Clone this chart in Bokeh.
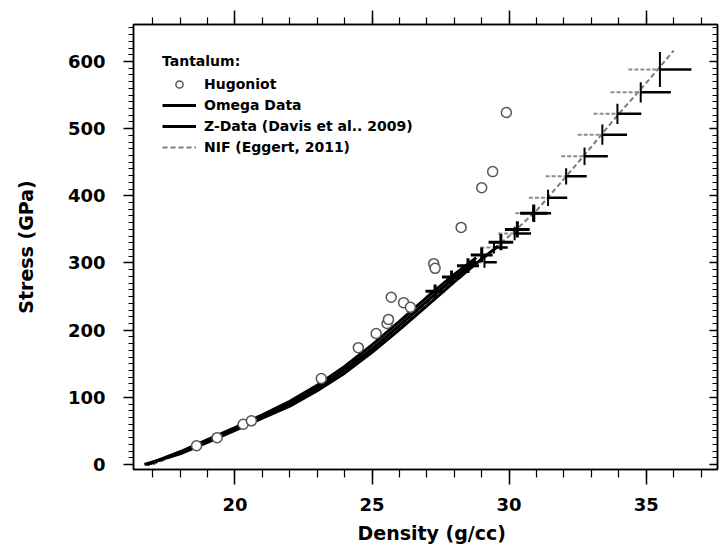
from bokeh.plotting import figure
from bokeh.models import (LinearAxis, SingleIntervalTicker, Legend, LegendItem, Range1d, Title)
from bokeh.embed import file_html
from bokeh.resources import INLINE

# ---------------- data ----------------
hug_density = [18.6, 19.35, 20.3, 20.6, 23.15, 24.5, 25.15, 25.55, 25.6, 25.7, 26.15, 26.4,
               27.25, 27.3, 28.25, 29.0, 29.4, 29.9]
hug_stress = [28, 40, 60, 65, 128, 174, 195, 210, 216, 249, 241, 234, 299, 292, 353, 412, 436, 524]

omega_density = [16.8, 18, 19, 20, 21, 22, 23, 24, 25, 26, 27, 28, 28.8]
omega_stress_a = [0, 18, 35, 53, 71, 90, 114, 141, 172, 207, 243, 278, 303]
omega_stress_b = [0, 19, 37, 55, 74, 94, 118, 146, 178, 213, 249, 283, 308]

z_density = [16.7, 18, 19, 20, 21, 22, 23, 24, 25, 26, 27, 28, 29, 29.6]
z_stress = [0, 16, 33, 51, 69, 87, 110, 136, 167, 201, 236, 272, 306, 325]
z_err_density = [27.3, 27.9, 28.5, 29.0, 29.7, 30.3, 30.9]
z_err_stress = [258, 279, 296, 312, 331, 350, 374]
z_err_dx = [0.35, 0.35, 0.4, 0.4, 0.45, 0.45, 0.5]
z_err_dy = [10, 10, 11, 11, 12, 12, 13]

nif_density = [17, 18, 19, 20, 21, 22, 23, 24, 25, 26, 27, 28, 29, 30, 31, 32, 33, 34, 35, 36]
nif_stress = [0, 17, 34, 52, 70, 89, 112, 139, 170, 205, 240, 274, 306, 340, 378, 425, 473,
              522, 568, 616]
nif_err_density = [29.1, 29.45, 30.2, 30.88, 31.42, 32.08, 32.75, 33.4, 33.95, 34.8, 35.5]
nif_err_stress = [301, 323, 344, 374, 397, 429, 459, 491, 522, 554, 588]
nif_err_dx = [0.45, 0.5, 0.6, 0.65, 0.7, 0.75, 0.85, 0.9, 0.87, 1.1, 1.15]
nif_err_dy = [8, 9, 10, 12, 12, 12, 13, 15, 15, 15, 26]

x_major, x_minor = 5, 5
y_major, y_minor = 100, 10

FONT = "DejaVu Sans"

p = figure(frame_width=584, frame_height=445,
           x_range=Range1d(16.3, 37.6), y_range=Range1d(-7.4, 655),
           output_backend="svg", toolbar_location=None,
           min_border_left=133, min_border_top=24, min_border_right=5, min_border_bottom=81)
p.grid.visible = False
p.outline_line_color = "black"
p.outline_line_width = 1.5
p.background_fill_color = "white"

xa = p.xaxis[0]
xa.ticker = SingleIntervalTicker(interval=x_major, num_minor_ticks=x_minor)
ya = p.yaxis[0]
ya.ticker = SingleIntervalTicker(interval=y_major, num_minor_ticks=y_minor)
ya.axis_label = "Stress (GPa)"

for ax in (xa, ya):
    ax.axis_line_width = 1.5
    ax.major_tick_line_width = 1.5
    ax.minor_tick_line_width = 1.2
    ax.major_tick_in = 0
    ax.minor_tick_in = 0
    ax.major_label_text_font = FONT
    ax.major_label_text_font_style = "bold"
    ax.major_label_text_font_size = "18px"
    ax.major_label_text_color = "black"
    ax.axis_label_text_font = FONT
    ax.axis_label_text_font_style = "bold"
    ax.axis_label_text_font_size = "19px"
    ax.axis_label_text_color = "black"

xa.major_tick_out = 15
xa.minor_tick_out = 8
xa.major_label_standoff = 13
ya.major_tick_out = 10
ya.minor_tick_out = 5
ya.major_label_standoff = 18
ya.axis_label_standoff = 28

xlabel = Title(text="Density (g/cc)", align="left", offset=224, standoff=12,
               text_font=FONT, text_font_style="bold", text_font_size="19px",
               text_color="black")
p.add_layout(xlabel, "below")

top = LinearAxis(ticker=SingleIntervalTicker(interval=x_major, num_minor_ticks=x_minor),
                 major_tick_out=14, minor_tick_out=7, major_tick_in=0, minor_tick_in=0,
                 major_label_text_font_size="1px", major_label_text_color=None,
                 major_label_standoff=0, axis_line_width=1.5,
                 major_tick_line_width=1.5, minor_tick_line_width=1.2)
p.add_layout(top, "above")
right = LinearAxis(ticker=SingleIntervalTicker(interval=y_major, num_minor_ticks=y_minor),
                   major_tick_out=0, minor_tick_out=0, major_tick_in=8, minor_tick_in=5,
                   major_label_text_font_size="1px", major_label_text_color=None,
                   major_label_standoff=0, axis_line_width=1.5,
                   major_tick_line_width=1.5, minor_tick_line_width=1.2)
p.add_layout(right, "right")

# NIF line and error crosses
nif_line = p.line(nif_density, nif_stress, line_color="#7a7a7a", line_width=2, line_dash="5 3")
nx0 = [x - d for x, d in zip(nif_err_density, nif_err_dx)]
nx1 = [x + d for x, d in zip(nif_err_density, nif_err_dx)]
p.segment(x0=nx0, y0=nif_err_stress, x1=nif_err_density, y1=nif_err_stress,
          line_color="#8c8c8c", line_width=2, line_dash="4 2")
p.segment(x0=nif_err_density, y0=nif_err_stress, x1=nx1, y1=nif_err_stress,
          line_color="black", line_width=2.5)
ny0 = [y - d for y, d in zip(nif_err_stress, nif_err_dy)]
ny1 = [y + d for y, d in zip(nif_err_stress, nif_err_dy)]
p.segment(x0=nif_err_density, y0=ny0, x1=nif_err_density, y1=ny1,
          line_color="black", line_width=2)

# Omega data band
om_a = p.line(omega_density, omega_stress_a, line_color="black", line_width=3)
p.line(omega_density, omega_stress_b, line_color="black", line_width=3)

# Z data
z_line = p.line(z_density, z_stress, line_color="black", line_width=3)
zx0 = [x - d for x, d in zip(z_err_density, z_err_dx)]
zx1 = [x + d for x, d in zip(z_err_density, z_err_dx)]
p.segment(x0=zx0, y0=z_err_stress, x1=zx1, y1=z_err_stress, line_color="black", line_width=3)
zy0 = [y - d for y, d in zip(z_err_stress, z_err_dy)]
zy1 = [y + d for y, d in zip(z_err_stress, z_err_dy)]
p.segment(x0=z_err_density, y0=zy0, x1=z_err_density, y1=zy1, line_color="black", line_width=3)

# Hugoniot
hug = p.scatter(hug_density, hug_stress, marker="circle", size=10, fill_color="white",
                line_color="#555555", line_width=1.5)

legend = Legend(items=[LegendItem(label="Hugoniot", renderers=[hug]),
                       LegendItem(label="Omega Data", renderers=[om_a]),
                       LegendItem(label="Z-Data (Davis et al.. 2009)", renderers=[z_line]),
                       LegendItem(label="NIF (Eggert, 2011)", renderers=[nif_line])],
                location="top_left", title="Tantalum:",
                title_text_font=FONT, title_text_font_style="bold", title_text_font_size="14px",
                title_standoff=6,
                label_text_font=FONT, label_text_font_style="bold", label_text_font_size="14px",
                label_text_color="black", title_text_color="black",
                border_line_color=None, background_fill_alpha=0,
                glyph_width=34, glyph_height=18, label_height=18, spacing=3,
                margin=29, padding=12, label_standoff=8)
p.add_layout(legend)

open("out.html", "w").write(file_html(p, INLINE))
